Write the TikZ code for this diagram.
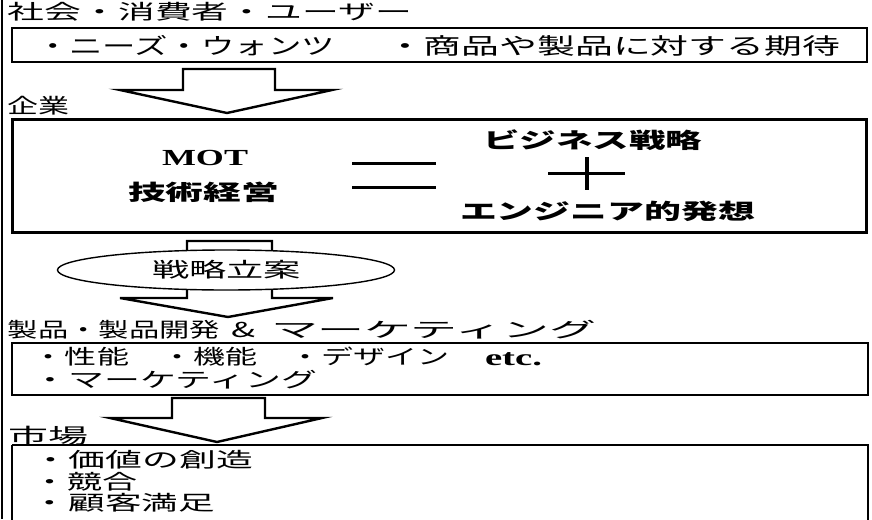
\documentclass[tikz,border=0pt]{standalone}
\usepackage{fontspec}
\usepackage{graphicx}
\usetikzlibrary{shapes.geometric}
\newfontfamily\jp{Noto Sans CJK JP}
\newfontfamily\tms{Liberation Serif}
\newsavebox\fitbox
\newcommand\fitw[2]{\sbox\fitbox{#2}\edef\fitfac{\fpeval{(#1)/(\the\wd\fitbox)}}\scalebox{\fitfac}[1]{\usebox\fitbox}}
\tikzset{
  txt/.style={anchor=west, inner sep=0pt, outer sep=0pt, font=\jp\fontsize{20.5}{24}\selectfont},
  btxt/.style={anchor=west, inner sep=0pt, outer sep=0pt, font=\jp\bfseries\fontsize{21.5}{25}\selectfont},
  ltxt/.style={anchor=west, inner sep=0pt, outer sep=0pt, font=\tms\bfseries\fontsize{23}{27}\selectfont},
  thinbox/.style={draw=black, line width=1.4pt},
  thickbox/.style={draw=black, line width=3pt},
  blockarrow/.style={draw=black, line width=2.4pt, fill=white, line join=miter},
  symline/.style={draw=black, line width=3pt},
}
\begin{document}
\begin{tikzpicture}[x=1pt,y=-1pt]
\useasboundingbox (0,0) rectangle (872,519);
\fill[white] (0,0) rectangle (872,519);
% left border
\draw[line width=2.5pt] (2,0) -- (2,519);

% section 1
\node[txt] (t1) at (8,12) {\fitw{404}{社会・消費者・ユーザー}};
\draw[thinbox] (12,28) rectangle (867,62);
\node[txt,font=\jp\fontsize{22.5}{26}\selectfont] (b1a) at (36,46) {\fitw{299}{・ニーズ・ウォンツ}};
\node[txt,font=\jp\fontsize{22.5}{26}\selectfont] (b1b) at (386,46) {\fitw{454}{・商品や製品に対する期待}};

% arrow 1
\draw[blockarrow] (183,69) -- (275,69) -- (275,90) -- (332,90) -- (227,113) -- (120,90) -- (183,90) -- cycle;

% section 2
\node[txt] (t2) at (8,106) {\fitw{62}{企業}};
\draw[thickbox] (12,119) rectangle (866,232);
\node[ltxt] (mot) at (162,158) {\fitw{86}{MOT}};
\node[btxt] (gk) at (128,192) {\fitw{151}{技術経営}};
\draw[symline] (352,163) -- (436,163);
\draw[symline] (352,187) -- (436,187);
\node[btxt] (bs) at (483,140) {\fitw{219}{ビジネス戦略}};
\draw[line width=3pt] (548,173) -- (625,173);
\draw[line width=4.5pt] (587,157) -- (587,190);
\node[btxt] (eh) at (460,211) {\fitw{295}{エンジニア的発想}};

% arrow 2
\draw[blockarrow] (187,241) -- (272,241) -- (272,298) -- (333,298) -- (228,317) -- (120,298) -- (187,298) -- cycle;
\node[ellipse, draw=black, line width=1.4pt, fill=white, minimum width=337pt, minimum height=40pt, inner sep=0pt] (el) at (226,270) {};
\node[txt] (sr) at (152,270) {\fitw{149}{戦略立案}};

% section 3
\node[txt] (t3a) at (8,330) {\fitw{212}{製品・製品開発}};
\node[txt] (t3b) at (231,330) {\fitw{24}{\&}};
\node[txt] (t3c) at (271,330) {\fitw{325}{マーケティング}};
\draw[thinbox] (12,343) rectangle (868,395);
\node[txt] (b3a) at (33,357) {\fitw{416}{・性能　・機能　・デザイン}};
\node[ltxt] (etc) at (485,359) {\fitw{57}{etc.}};
\node[txt] (b3b) at (33,380) {\fitw{284}{・マーケティング}};

% arrow 3
\draw[blockarrow] (172,398) -- (265,398) -- (265,418) -- (322,418) -- (217,442) -- (110,418) -- (172,418) -- cycle;

% section 4
\node[txt] (t4) at (8,436) {\fitw{80}{市場}};
\draw[thinbox] (12,445) -- (868,445) -- (868,530) (12,445) -- (12,530);
\node[txt] (b4a) at (32,460) {\fitw{221}{・価値の創造}};
\node[txt] (b4b) at (32,482) {\fitw{105}{・競合}};
\node[txt] (b4c) at (32,503) {\fitw{183}{・顧客満足}};
\end{tikzpicture}
\end{document}
